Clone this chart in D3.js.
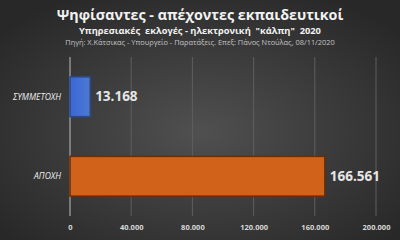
<!DOCTYPE html>
<html>
<head>
<meta charset="utf-8">
<script src="https://cdn.jsdelivr.net/npm/d3@7"></script>
<style>
  body { margin: 0; background: #2e2e2e; }
  svg { display: block; font-family: "Open Sans", sans-serif; }
</style>
</head>
<body>
<div id="chartDiv"></div>
<script>
// data
const categories = ["ΣΥΜΜΕΤΟΧΗ", "ΑΠΟΧΗ"];
const values = [13168, 166561];
const barColors = ["#4472c4", "#d0621a"];
const tickValues = [0, 40000, 80000, 120000, 160000, 200000];

const title = "Ψηφίσαντες - απέχοντες εκπαιδευτικοί";
const subtitle = "Υπηρεσιακές  εκλογές - ηλεκτρονική  \"κάλπη\"  2020";
const source = "Πηγή: Χ.Κάτσικας - Υπουργείο - Παρατάξεις. Επεξ: Πάνος Ντούλας, 08/11/2020";

const width = 400, height = 240;
const fmt = v => d3.format(",")(v).replace(/,/g, ".");

const svg = d3.select("#chartDiv").append("svg")
    .attr("width", width)
    .attr("height", height);

// background
const defs = svg.append("defs");
const bg = defs.append("radialGradient").attr("id", "bg")
    .attr("cx", "50%").attr("cy", "55%").attr("r", "65%");
bg.append("stop").attr("offset", "0%").attr("stop-color", "#505050");
bg.append("stop").attr("offset", "100%").attr("stop-color", "#282828");
svg.append("rect").attr("width", width).attr("height", height).attr("fill", "url(#bg)");

const blueGrad = defs.append("linearGradient").attr("id", "blueGrad")
    .attr("x1", 0).attr("x2", 1).attr("y1", 0).attr("y2", 0);
blueGrad.append("stop").attr("offset", "0%").attr("stop-color", "#3a66d8");
blueGrad.append("stop").attr("offset", "100%").attr("stop-color", "#4d7ad0");

// titles
svg.append("text").attr("x", 200).attr("y", 20).attr("text-anchor", "middle")
    .attr("fill", "#f2f2f2").attr("font-size", 14.3).attr("font-weight", "bold")
    .text(title);
svg.append("text").attr("x", 200).attr("y", 33.5).attr("text-anchor", "middle")
    .attr("fill", "#f2f2f2").attr("font-size", 9.3).attr("font-weight", "bold")
    .style("white-space", "pre")
    .text(subtitle);
svg.append("text").attr("x", 200).attr("y", 45).attr("text-anchor", "middle")
    .attr("fill", "#c4c4c4").attr("font-size", 7.4)
    .text(source);

// scales
const x = d3.scaleLinear().domain([0, 200000]).range([70, 376]);
const y = d3.scaleBand().domain(categories).range([57, 216])
    .paddingInner(0.5).paddingOuter(0.25);

// grid
svg.append("g").selectAll("line")
    .data(tickValues)
    .enter().append("line")
    .attr("x1", d => x(d)).attr("x2", d => x(d))
    .attr("y1", 57).attr("y2", 216)
    .attr("stroke", d => d === 0 ? "#bdbdbd" : "#5e5e5e")
    .attr("stroke-width", 1);

// x axis
const xAxis = d3.axisBottom(x).tickValues(tickValues).tickFormat(fmt).tickSize(0);
const gx = svg.append("g").attr("transform", "translate(0,222)").call(xAxis);
gx.select(".domain").remove();
gx.selectAll("text").attr("fill", "#d9d9d9").attr("font-size", 7.5)
    .attr("font-weight", "bold").attr("font-family", "Open Sans, sans-serif");

// category labels
svg.append("g").selectAll("text")
    .data(categories)
    .enter().append("text")
    .attr("x", 61)
    .attr("y", d => y(d) + y.bandwidth() / 2)
    .attr("dy", "0.35em")
    .attr("text-anchor", "end")
    .attr("fill", "#f0f0f0").attr("font-size", 8.5).attr("font-style", "italic")
    .text(d => d);

// bars
svg.append("g").selectAll("rect")
    .data(values)
    .enter().append("rect")
    .attr("x", x(0))
    .attr("y", (d, i) => y(categories[i]))
    .attr("width", d => x(d) - x(0))
    .attr("height", y.bandwidth())
    .attr("fill", (d, i) => i === 0 ? "url(#blueGrad)" : barColors[i])
    .attr("stroke", (d, i) => i === 0 ? "#2b4a8a" : "#6a2d08")
    .attr("stroke-width", 1.5);

// value labels
svg.append("g").selectAll("text")
    .data(values)
    .enter().append("text")
    .attr("x", d => x(d) + 5)
    .attr("y", (d, i) => y(categories[i]) + y.bandwidth() / 2)
    .attr("dy", "0.35em")
    .attr("fill", "#e6e6e6").attr("font-size", 13.5).attr("font-weight", "bold")
    .text(fmt);
</script>
</body>
</html>
